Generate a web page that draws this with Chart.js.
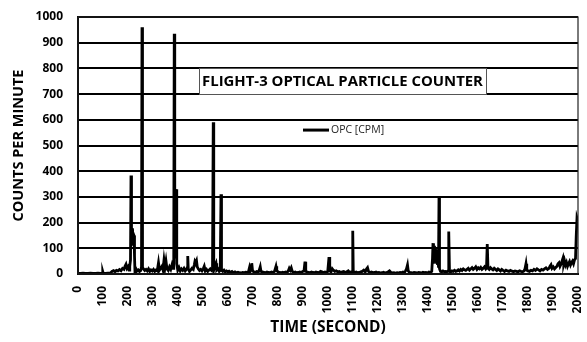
<!DOCTYPE html>
<html>
<head>
<meta charset="utf-8">
<script src="https://cdn.jsdelivr.net/npm/chart.js@4/dist/chart.umd.min.js"></script>
<style>
html,body{margin:0;padding:0;background:#fff;}
#wrap{width:587px;height:342px;position:relative;}
</style>
</head>
<body>
<div id="wrap"><canvas id="c" width="587" height="342"></canvas></div>
<script>
// ---- data ----
const timeSec = [
  0,10,20,30,40,50,60,70,80,90,
  97,99,101,110,120,130,136,142,148,154,
  160,166,172,178,184,188,192,196,200,204,
  207,210,212,214,216,218,220,222,224,226,
  228,231,236,241,246,251,254,256,258,262,
  267,272,277,282,287,292,297,302,307,312,
  317,322,326,331,336,340,344,348,352,356,
  361,366,371,376,380,383,385,387,389,391,
  393,395,399,404,409,414,419,424,429,434,
  437,439,441,446,451,456,461,465,468,471,
  474,477,481,486,491,496,501,505,509,514,
  519,524,529,534,538,541,543,546,549,552,
  555,560,565,569,572,574,579,584,589,594,
  599,604,610,616,622,628,634,640,646,652,
  658,664,670,676,682,686,689,693,695,698,
  703,709,715,721,725,729,732,738,744,750,
  756,762,768,774,780,786,789,792,795,800,
  806,812,818,824,830,836,841,845,849,853,
  857,863,869,875,881,887,893,899,904,908,
  911,916,922,928,934,940,946,952,958,964,
  970,976,982,988,994,999,1004,1007,1012,1017,
  1021,1027,1033,1039,1045,1051,1057,1063,1069,1075,
  1081,1087,1093,1097,1099,1101,1107,1113,1119,1125,
  1131,1137,1143,1149,1154,1158,1162,1168,1174,1180,
  1186,1192,1198,1204,1210,1216,1222,1228,1234,1240,
  1246,1252,1258,1264,1270,1276,1282,1288,1294,1300,
  1306,1310,1314,1318,1321,1326,1332,1338,1344,1350,
  1356,1362,1368,1374,1380,1386,1392,1398,1404,1410,
  1415,1418,1420,1422,1424,1426,1428,1430,1432,1434,
  1436,1438,1440,1442,1444,1446,1450,1455,1460,1465,
  1470,1475,1480,1483,1486,1491,1496,1501,1506,1511,
  1516,1521,1526,1531,1536,1541,1546,1551,1556,1561,
  1566,1571,1576,1581,1586,1591,1596,1601,1606,1611,
  1616,1621,1626,1631,1634,1637,1640,1645,1650,1655,
  1660,1665,1670,1675,1680,1685,1690,1695,1700,1706,
  1712,1718,1724,1730,1736,1742,1748,1754,1760,1766,
  1772,1778,1784,1788,1792,1795,1800,1806,1812,1818,
  1824,1830,1836,1842,1848,1854,1860,1866,1872,1878,
  1884,1888,1892,1896,1901,1906,1911,1916,1920,1924,
  1928,1932,1936,1940,1943,1946,1950,1954,1958,1962,
  1966,1970,1974,1978,1982,1986,1990,1993,1996,2000
];
const opcCpm = [
  2,2,3,2,2,3,2,2,3,2,
  2,9,2,2,3,4,10,13,9,14,
  12,17,13,22,18,30,38,22,28,15,
  30,55,383,110,175,178,120,155,150,70,
  5,22,12,16,10,14,28,960,25,20,
  14,18,12,20,10,16,12,18,10,15,
  12,44,15,22,30,16,54,25,50,20,
  14,28,18,36,22,60,935,60,330,300,
  330,40,15,25,12,20,14,22,12,18,
  25,70,20,10,16,22,18,35,50,45,
  52,28,20,14,18,12,20,30,12,18,
  10,15,20,14,18,590,15,25,35,42,
  15,20,10,14,310,14,10,15,8,12,
  9,11,6,10,5,8,5,7,5,4,
  6,5,7,6,9,25,12,30,42,14,
  8,6,10,8,15,28,10,8,6,5,
  8,6,5,8,6,10,20,30,14,8,
  6,5,7,5,8,6,12,22,15,24,
  10,6,8,5,6,8,6,10,12,48,
  10,8,6,5,8,6,5,8,6,5,
  10,8,6,8,6,10,66,12,8,20,
  15,10,12,8,10,6,8,10,6,8,
  12,6,8,10,168,10,6,8,5,6,
  8,10,15,8,20,25,10,6,8,5,
  6,8,5,6,4,5,7,4,5,8,
  12,6,4,5,3,5,4,6,5,8,
  6,12,20,35,12,6,5,4,6,5,
  4,6,5,4,7,5,6,4,8,6,
  10,60,120,40,110,60,100,45,95,40,
  90,35,70,25,300,20,10,8,12,9,
  10,8,12,165,10,8,12,10,14,10,
  12,16,12,18,14,20,16,14,18,22,
  15,20,25,18,22,28,18,24,20,26,
  18,22,28,20,24,117,22,18,25,20,
  16,22,18,14,20,16,12,18,14,10,
  15,12,10,14,11,9,12,10,8,12,
  10,9,12,20,40,15,12,10,14,12,
  18,14,20,16,12,18,15,20,24,18,
  22,30,36,22,28,20,25,30,40,44,
  30,38,50,62,40,52,35,45,30,40,
  48,35,44,50,40,55,60,150,218,205
];
const xTicks = [0,100,200,300,400,500,600,700,800,900,1000,1100,1200,1300,1400,1500,1600,1700,1800,1900,2000];
const yTicks = [0,100,200,300,400,500,600,700,800,900,1000];
const seriesName = 'OPC [CPM]';
const chartTitle = 'FLIGHT-3 OPTICAL PARTICLE COUNTER';
const xTitle = 'TIME (SECOND)';
const yTitle = 'COUNTS PER MINUTE';

const points = timeSec.map((t, i) => ({x: t, y: opcCpm[i]}));
const FONT = "'Open Sans', 'Liberation Sans', sans-serif";

const overlay = {
  id: 'overlay',
  afterDraw(chart) {
    const {ctx, chartArea: a, scales} = chart;
    const xs = scales.x, ys = scales.y;
    ctx.save();
    // plot frame
    ctx.strokeStyle = '#222';
    ctx.lineWidth = 1.2;
    ctx.strokeRect(a.left, a.top, a.right - a.left, a.bottom - a.top);
    // title box
    const bx0 = xs.getPixelForValue(484), bx1 = xs.getPixelForValue(1632);
    const by0 = ys.getPixelForValue(800), by1 = ys.getPixelForValue(700);
    ctx.fillStyle = '#fff';
    ctx.fillRect(bx0, by0, bx1 - bx0, by1 - by0);
    ctx.strokeStyle = '#555';
    ctx.lineWidth = 1;
    ctx.strokeRect(Math.round(bx0) + 0.5, Math.round(by0) + 0.5, Math.round(bx1 - bx0), Math.round(by1 - by0));
    let fs = 15;
    ctx.font = 'bold ' + fs + 'px ' + FONT;
    const w = ctx.measureText(chartTitle).width;
    fs = fs * 281 / w;
    ctx.font = 'bold ' + fs.toFixed(2) + 'px ' + FONT;
    ctx.fillStyle = '#000';
    ctx.textAlign = 'center';
    ctx.textBaseline = 'middle';
    ctx.fillText(chartTitle, (bx0 + bx1) / 2, (by0 + by1) / 2 + 1);
    // legend
    const ly = ys.getPixelForValue(560);
    const lx = xs.getPixelForValue(900);
    ctx.strokeStyle = '#000';
    ctx.lineWidth = 3;
    ctx.beginPath();
    ctx.moveTo(lx, ly);
    ctx.lineTo(lx + 26, ly);
    ctx.stroke();
    ctx.font = '10.5px ' + FONT;
    ctx.fillStyle = '#222';
    ctx.textAlign = 'left';
    ctx.fillText(seriesName, lx + 28, ly);
    ctx.restore();
  }
};

new Chart(document.getElementById('c'), {
  type: 'line',
  data: {
    datasets: [{
      label: seriesName,
      data: points,
      borderColor: '#000',
      backgroundColor: '#000',
      borderWidth: 2.8,
      pointRadius: 0,
      tension: 0,
      borderJoinStyle: 'miter'
    }]
  },
  options: {
    responsive: false,
    animation: false,
    layout: {padding: {top: 17, right: 9, left: 0, bottom: 0}},
    plugins: {legend: {display: false}, tooltip: {enabled: false}},
    scales: {
      x: {
        type: 'linear',
        min: 0, max: 2000,
        afterBuildTicks(s) { s.ticks = xTicks.map(v => ({value: v})); },
        afterFit(s) { s.height = 68; s.paddingLeft = 0; s.paddingRight = 0; },
        grid: {display: false, drawTicks: false},
        border: {display: true, color: '#000', width: 2},
        ticks: {
          minRotation: 90, maxRotation: 90, padding: 12, autoSkip: false,
          callback: v => String(v),
          color: '#000', font: {family: FONT, size: 12, weight: 'bold'}
        },
        title: {display: true, text: xTitle, color: '#000', padding: {top: 0, bottom: 5},
          font: {family: FONT, size: 15.5, weight: 'bold'}}
      },
      y: {
        min: 0, max: 1000,
        afterBuildTicks(s) { s.ticks = yTicks.map(v => ({value: v})); },
        afterFit(s) { s.width = 78; s.paddingTop = 0; s.paddingBottom = 0; },
        grid: {color: '#000', lineWidth: 2, drawTicks: false},
        border: {display: true, color: '#000', width: 2},
        ticks: {padding: 15, callback: v => String(v), color: '#000', font: {family: FONT, size: 12, weight: 'bold'}},
        title: {display: true, text: yTitle, color: '#000', padding: {top: 10, bottom: 0},
          font: {family: FONT, size: 14.5, weight: 'bold'}}
      }
    }
  },
  plugins: [overlay]
});
</script>
</body>
</html>
